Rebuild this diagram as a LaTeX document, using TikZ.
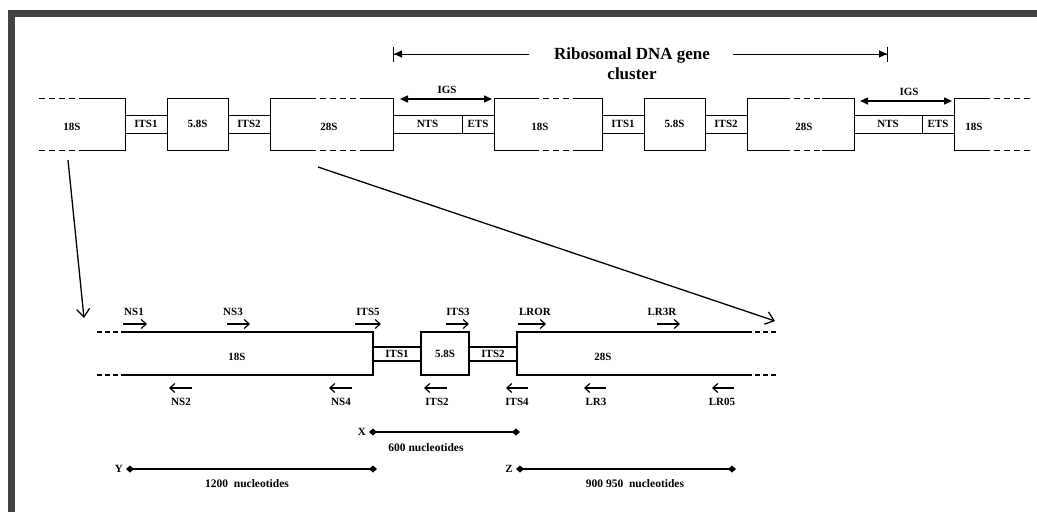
\documentclass[tikz,border=0pt]{standalone}
\usepackage{fontspec}
\setmainfont{Liberation Serif}
\usepackage{xcolor}
\usepackage{tikz}
\usetikzlibrary{arrows.meta,positioning}
\definecolor{framegray}{HTML}{424242}

\begin{document}
\begin{tikzpicture}[
  x=1pt, y=-1pt,
  font=\fontsize{11}{12}\selectfont\bfseries,
  lbl/.style={inner sep=0pt},
  genebox/.style={draw,line width=0.9pt,inner sep=0pt,minimum width=#1,minimum height=52pt},
  spacer/.style={draw,line width=0.9pt,inner sep=0pt,minimum width=#1,minimum height=18pt},
  bgenebox/.style={draw,line width=1.3pt,inner sep=0pt,minimum width=#1,minimum height=43pt},
  bspacer/.style={draw,line width=1.1pt,inner sep=0pt,minimum width=#1,minimum height=14pt},
  geneline/.style={line width=0.9pt},
  dashline/.style={line width=0.9pt,dash pattern=on 6pt off 4pt},
  bline/.style={line width=1.3pt},
  bdash/.style={line width=1.3pt,dash pattern=on 5pt off 3pt},
  span/.style={line width=0.9pt,-{Triangle[length=8pt,width=7pt]Bar[width=15pt,line width=1pt]}},
  igs/.style={line width=1.5pt,{Triangle[length=8pt,width=7pt]}-{Triangle[length=8pt,width=7pt]}},
  zoom/.style={line width=1.3pt,-{Straight Barb[length=8pt,width=13pt]}},
  primer/.style={line width=1.2pt,-{Straight Barb[length=5pt,width=9pt]}},
  sizebar/.style={line width=1.4pt,{Turned Square[length=8pt,width=7pt]}-{Turned Square[length=8pt,width=7pt]}},
  nuc/.style={inner sep=0pt,font=\fontsize{11.5}{13}\selectfont\bfseries},
]
\useasboundingbox (0,0) rectangle (1037,512);
% frame
\fill[framegray] (8,10) rectangle (1037,17);
\fill[framegray] (8,10) rectangle (15,512);

% title
\node[lbl,align=center,font=\fontsize{17}{20}\selectfont\bfseries] (rdna) at (632,64) {Ribosomal DNA gene\\cluster};
\coordinate (tl) at (393,54);
\coordinate (tlm) at (529,54);
\coordinate (trm) at (733,54);
\coordinate (tr) at (888,54);
\draw[span] (tlm) -- (tl);
\draw[span] (trm) -- (tr);

% upper row, first unit
\draw[dashline] (39,98) -- (83,98) (39,150) -- (83,150);
\draw[geneline] (83,98) -- (125,98) -- (125,150) -- (83,150);
\node[lbl] (c1r18) at (72,127) {18S};
\node[spacer=42] (c1its1) at (146,124) {ITS1};
\node[genebox=61] (c1s58) at (197.5,124) {5.8S};
\node[spacer=42] (c1its2) at (249,124) {ITS2};
\draw[geneline] (310,98) -- (270,98) -- (270,150) -- (310,150)
  (360,98) -- (393,98) -- (393,150) -- (360,150);
\draw[dashline] (310,98) -- (360,98) (310,150) -- (360,150);
\node[lbl] (c1r28) at (329,127) {28S};
\node[spacer=69] (c1nts) at (427.5,124) {NTS};
\node[spacer=32] (c1ets) at (478,124) {ETS};
\coordinate (igs1a) at (400,99);
\coordinate (igs1b) at (492,99);
\draw[igs] (igs1a) -- (igs1b);
\node[lbl] (igs1) at (447,90) {IGS};

% upper row, second unit
\draw[geneline] (533,98) -- (494,98) -- (494,150) -- (533,150)
  (577,98) -- (602,98) -- (602,150) -- (577,150);
\draw[dashline] (533,98) -- (577,98) (533,150) -- (577,150);
\node[lbl] (c2r18) at (540,127) {18S};
\node[spacer=42] (c2its1) at (623,124) {ITS1};
\node[genebox=61] (c2s58) at (674.5,124) {5.8S};
\node[spacer=42] (c2its2) at (726,124) {ITS2};
\draw[geneline] (784,98) -- (747,98) -- (747,150) -- (784,150)
  (822,98) -- (854,98) -- (854,150) -- (822,150);
\draw[dashline] (784,98) -- (822,98) (784,150) -- (822,150);
\node[lbl] (c2r28) at (804,127) {28S};
\node[spacer=68] (c2nts) at (888,124) {NTS};
\node[spacer=32] (c2ets) at (938,124) {ETS};
\coordinate (igs2a) at (860,101);
\coordinate (igs2b) at (952,101);
\draw[igs] (igs2a) -- (igs2b);
\node[lbl] (igs2) at (909,92) {IGS};
\draw[geneline] (984,98) -- (954,98) -- (954,150) -- (984,150);
\draw[dashline] (984,98) -- (1030,98) (984,150) -- (1030,150);
\node[lbl] (c3r18) at (974,127) {18S};

% zoom arrows
\coordinate (z18a) at (68,160);
\coordinate (z18b) at (84,318);
\coordinate (z28a) at (318,167);
\coordinate (z28b) at (775,321);
\draw[zoom] (z18a) -- (z18b);
\draw[zoom] (z28a) -- (z28b);

% lower row
\draw[bdash] (97,332) -- (125,332) (97,375) -- (125,375);
\draw[bline] (125,332) -- (373,332) -- (373,375) -- (125,375);
\node[lbl] (b18) at (237,357) {18S};
\node[bspacer=48] (bits1) at (397,354) {ITS1};
\node[bgenebox=48] (bs58) at (445,353.5) {5.8S};
\node[bspacer=48] (bits2) at (493,354) {ITS2};
\draw[bline] (747,332) -- (517,332) -- (517,375) -- (747,375);
\draw[bdash] (747,332) -- (778,332) (747,375) -- (778,375);
\node[lbl] (b28) at (603,357) {28S};

% forward primers
\coordinate (ns1a) at (123,324);  \coordinate (ns1b) at (147,324);
\coordinate (ns3a) at (227,324);  \coordinate (ns3b) at (250,324);
\coordinate (its5a) at (355,324); \coordinate (its5b) at (381,324);
\coordinate (its3a) at (446,324); \coordinate (its3b) at (469,324);
\coordinate (lrora) at (518,324); \coordinate (lrorb) at (546,324);
\coordinate (lr3ra) at (657,324); \coordinate (lr3rb) at (680,324);
\draw[primer] (ns1a) -- (ns1b);
\draw[primer] (ns3a) -- (ns3b);
\draw[primer] (its5a) -- (its5b);
\draw[primer] (its3a) -- (its3b);
\draw[primer] (lrora) -- (lrorb);
\draw[primer] (lr3ra) -- (lr3rb);
\node[lbl] (ns1) at (134,312) {NS1};
\node[lbl] (ns3) at (233,312) {NS3};
\node[lbl] (its5) at (368,312) {ITS5};
\node[lbl] (its3) at (458,312) {ITS3};
\node[lbl] (lror) at (535,312) {LROR};
\node[lbl] (lr3r) at (662,312) {LR3R};

% reverse primers
\coordinate (ns2a) at (192,388);  \coordinate (ns2b) at (169,388);
\coordinate (ns4a) at (352,388);  \coordinate (ns4b) at (329,388);
\coordinate (its2a) at (447,388); \coordinate (its2b) at (424,388);
\coordinate (its4a) at (528,388); \coordinate (its4b) at (506,388);
\coordinate (lr3a) at (606,388);  \coordinate (lr3b) at (584,388);
\coordinate (lr05a) at (734,388); \coordinate (lr05b) at (712,388);
\draw[primer] (ns2a) -- (ns2b);
\draw[primer] (ns4a) -- (ns4b);
\draw[primer] (its2a) -- (its2b);
\draw[primer] (its4a) -- (its4b);
\draw[primer] (lr3a) -- (lr3b);
\draw[primer] (lr05a) -- (lr05b);
\node[lbl] (ns2) at (181,402) {NS2};
\node[lbl] (ns4) at (341,402) {NS4};
\node[lbl] (its2) at (437,402) {ITS2};
\node[lbl] (its4) at (517,402) {ITS4};
\node[lbl] (lr3) at (596,402) {LR3};
\node[lbl] (lr05) at (722,402) {LR05};

% product sizes
\coordinate (xa) at (369,432); \coordinate (xb) at (520,432);
\coordinate (ya) at (126,469); \coordinate (yb) at (377,469);
\coordinate (za) at (516,469); \coordinate (zb) at (736,469);
\draw[sizebar] (xa) -- (xb);
\draw[sizebar] (ya) -- (yb);
\draw[sizebar] (za) -- (zb);
\node[lbl,left=3pt of xa] (xlbl) {X};
\node[lbl,left=3pt of ya] (ylbl) {Y};
\node[lbl,left=3pt of za] (zlbl) {Z};
\node[nuc] (xnuc) at (426,448) {600 nucleotides};
\node[nuc] (ynuc) at (247,484) {1200\ \ nucleotides};
\node[nuc] (znuc) at (635,484) {900 950\ \ nucleotides};
\end{tikzpicture}
\end{document}
